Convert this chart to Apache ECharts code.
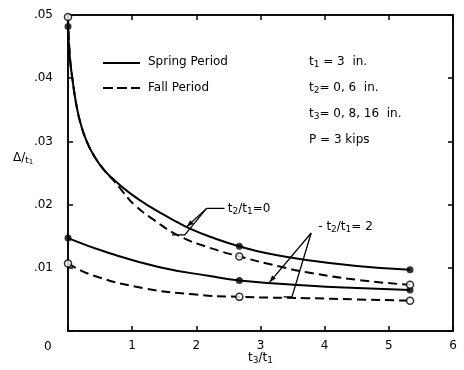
<!DOCTYPE html>
<html>
<head>
<meta charset="utf-8">
<script src="https://cdn.jsdelivr.net/npm/echarts@6/dist/echarts.min.js"></script>
<style>
  html, body { margin: 0; padding: 0; background: #fff; }
  #main { width: 464px; height: 370px; }
</style>
</head>
<body>
<div id="main"></div>
<script>
// t2/t1 = 0, spring (solid) and fall (dashed)
var xSpring0 = [0, 0.03, 0.07, 0.13, 0.2, 0.3, 0.42, 0.56, 0.72, 0.98, 1.29, 1.6, 1.9, 2.3, 2.67, 3.1, 3.61, 4.5, 5.33];
var ySpring0 = [.0482, .0432, .0398, .0358, .0327, .0298, .0275, .0255, .0239, .0217, .0196, .0178, .0162, .0146, .0134, .0123, .0114, .0103, .0097];
var xFall0 = [0, 0.03, 0.07, 0.13, 0.2, 0.3, 0.42, 0.56, 0.72, 0.85, 1.03, 1.35, 1.74, 2.2, 2.67, 3.3, 3.72, 4.5, 5.33];
var yFall0 = [.0497, .0434, .0398, .0358, .0327, .0298, .0275, .0255, .0237, .0221, .0200, .0175, .0150, .0132, .0118, .0102, .0093, .0081, .0073];
// t2/t1 = 2
var xSpring2 = [0, 0.65, 1.43, 2.21, 2.67, 3.72, 4.5, 5.33];
var ySpring2 = [.0147, .0123, .0101, .0087, .0080, .0072, .0068, .0065];
var xFall2 = [0, 0.39, 1.17, 1.95, 2.67, 3.72, 4.5, 5.33];
var yFall2 = [.0107, .0088, .0068, .0058, .0054, .0052, .0050, .0048];
// measured points
var ptX = [0, 2.67, 5.33, 0, 2.67, 5.33];
var ptSpring = [.0482, .0134, .0097, .0147, .0080, .0065];
var ptFall = [.0497, .0118, .0073, .0107, .0054, .0048];

var yTicks = ['.01', '.02', '.03', '.04', '.05'];
var xTicks = ['1', '2', '3', '4', '5', '6'];

function zip(xs, ys) {
  return xs.map(function (x, i) { return [x, ys[i]]; });
}

var font = 'DejaVu Sans';
var myChart = echarts.init(document.getElementById('main'));

function lineSeries(name, xs, ys, dashed) {
  return {
    name: name,
    type: 'line',
    data: zip(xs, ys),
    smooth: 0.5,
    symbol: 'none',
    lineStyle: { color: '#000', width: 2, type: dashed ? [9, 5] : 'solid' },
    itemStyle: { color: '#000' },
    z: 2
  };
}

var tickCommon = { show: true, inside: true, length: 5, lineStyle: { color: '#000', width: 1.5 } };
var lineCommon = { show: true, onZero: false, lineStyle: { color: '#000', width: 1.5 } };

var option = {
  backgroundColor: '#fff',
  animation: false,
  grid: { left: 68, top: 15, right: 11, bottom: 39, show: true, borderColor: '#000', borderWidth: 1.5 },
  xAxis: [{
    type: 'value', min: 0, max: 6, interval: 1,
    axisLine: lineCommon,
    axisTick: tickCommon,
    splitLine: { show: false },
    axisLabel: {
      margin: 9, fontFamily: font, fontSize: 12, color: '#000',
      formatter: function (v) { return v === 0 ? '' : xTicks[v - 1]; }
    }
  }, {
    type: 'value', min: 0, max: 6, interval: 1, position: 'top',
    axisLine: lineCommon,
    axisTick: tickCommon, axisLabel: { show: false }, splitLine: { show: false }
  }],
  yAxis: [{
    type: 'value', min: 0, max: 0.05, interval: 0.01,
    axisLine: lineCommon,
    axisTick: tickCommon,
    splitLine: { show: false },
    axisLabel: {
      margin: 15, fontFamily: font, fontSize: 12, color: '#000',
      formatter: function (v) { var i = Math.round(v * 100); return i === 0 ? '' : yTicks[i - 1]; }
    }
  }, {
    type: 'value', min: 0, max: 0.05, interval: 0.01, position: 'right',
    axisLine: lineCommon,
    axisTick: tickCommon, axisLabel: { show: false }, splitLine: { show: false }
  }],
  series: [
    lineSeries('Spring Period', xSpring0, ySpring0, false),
    lineSeries('Fall Period', xFall0, yFall0, true),
    lineSeries('Spring Period', xSpring2, ySpring2, false),
    lineSeries('Fall Period', xFall2, yFall2, true),
    {
      name: 'spring points', type: 'scatter', data: zip(ptX, ptSpring),
      symbol: 'circle', symbolSize: 7, itemStyle: { color: '#000' }, z: 5
    },
    {
      name: 'fall points', type: 'scatter', data: zip(ptX, ptFall),
      symbol: 'circle', symbolSize: 7,
      itemStyle: { color: '#fff', borderColor: '#000', borderWidth: 1.5 }, z: 5
    }
  ]
};
myChart.setOption(option);

// annotations placed with data coordinates
function px(x, y) { return myChart.convertToPixel({ xAxisIndex: 0, yAxisIndex: 0 }, [x, y]); }
function poly(pts, w) {
  return { type: 'polyline', shape: { points: pts.map(function (p) { return px(p[0], p[1]); }) },
    style: { stroke: '#000', lineWidth: w || 1.3, fill: null }, z: 10 };
}
function arrowHead(from, to) {
  var a = px(from[0], from[1]), b = px(to[0], to[1]);
  var ang = Math.atan2(b[1] - a[1], b[0] - a[0]);
  var L = 7, W = 2.5;
  var p1 = [b[0] - L * Math.cos(ang) + W * Math.sin(ang), b[1] - L * Math.sin(ang) - W * Math.cos(ang)];
  var p2 = [b[0] - L * Math.cos(ang) - W * Math.sin(ang), b[1] - L * Math.sin(ang) + W * Math.cos(ang)];
  return { type: 'polygon', shape: { points: [b, p1, p2] }, style: { fill: '#000' }, z: 10 };
}
var rich = {
  s: { fontFamily: font, fontSize: 9, color: '#000', verticalAlign: 'bottom', padding: [6, 0, 0, 0] },
  x: { fontFamily: font, fontSize: 7, color: '#000', verticalAlign: 'bottom', padding: [8, 0, 0, 0] },
  n: { fontFamily: font, fontSize: 12, color: '#000' }
};
function txt(x, y, str, align) {
  return { type: 'text', x: x, y: y, z: 10,
    style: { text: str, rich: rich, font: '12px ' + font, fill: '#000', align: align || 'left', verticalAlign: 'middle' } };
}
function dtxt(dx, dy, str) { var p = px(dx, dy); return txt(p[0], p[1], str); }
function seg(x1, y1, x2, y2, dash) {
  return { type: 'line', shape: { x1: x1, y1: y1, x2: x2, y2: y2 }, z: 10,
    style: { stroke: '#000', lineWidth: 2, lineDash: dash || null } };
}

var j0 = [2.16, .0194], j2 = [3.79, .0155];
var graphics = [
  // legend
  seg(103, 63, 140, 63), txt(148, 62, '{n|Spring Period}'),
  seg(103, 88, 140, 88, [10, 4]), txt(148, 88, '{n|Fall Period}'),
  // curve labels
  poly([[2.44, .0194], j0]),
  poly([j0, [1.85, .0165]]), arrowHead(j0, [1.85, .0165]),
  poly([j0, [1.82, .0152], [1.62, .0152]]),
  dtxt(2.49, .0194, '{n|t}{s|2}{n|/t}{s|1}{n|=0}'),
  poly([j2, [3.14, .0077]]), arrowHead(j2, [3.14, .0077]),
  poly([j2, [3.49, .0054], [3.36, .0054]]),
  dtxt(3.9, .0165, '{n|- t}{s|2}{n|/t}{s|1}{n|= 2}'),
  // test conditions
  txt(309, 62, '{n|t}{s|1}{n| = 3  in.}'),
  txt(309, 88, '{n|t}{s|2}{n|= 0, 6  in.}'),
  txt(309, 114, '{n|t}{s|3}{n|= 0, 8, 16  in.}'),
  txt(309, 140, '{n|P = 3 kips}'),
  // axis names
  txt(13, 158, '{n|Δ/}{s|t}{x|1}'),
  txt(248, 358, '{n|t}{s|3}{n|/t}{s|1}'),
  txt(44, 347, '{n|0}')
];
myChart.setOption({ graphic: graphics });
</script>
</body>
</html>
